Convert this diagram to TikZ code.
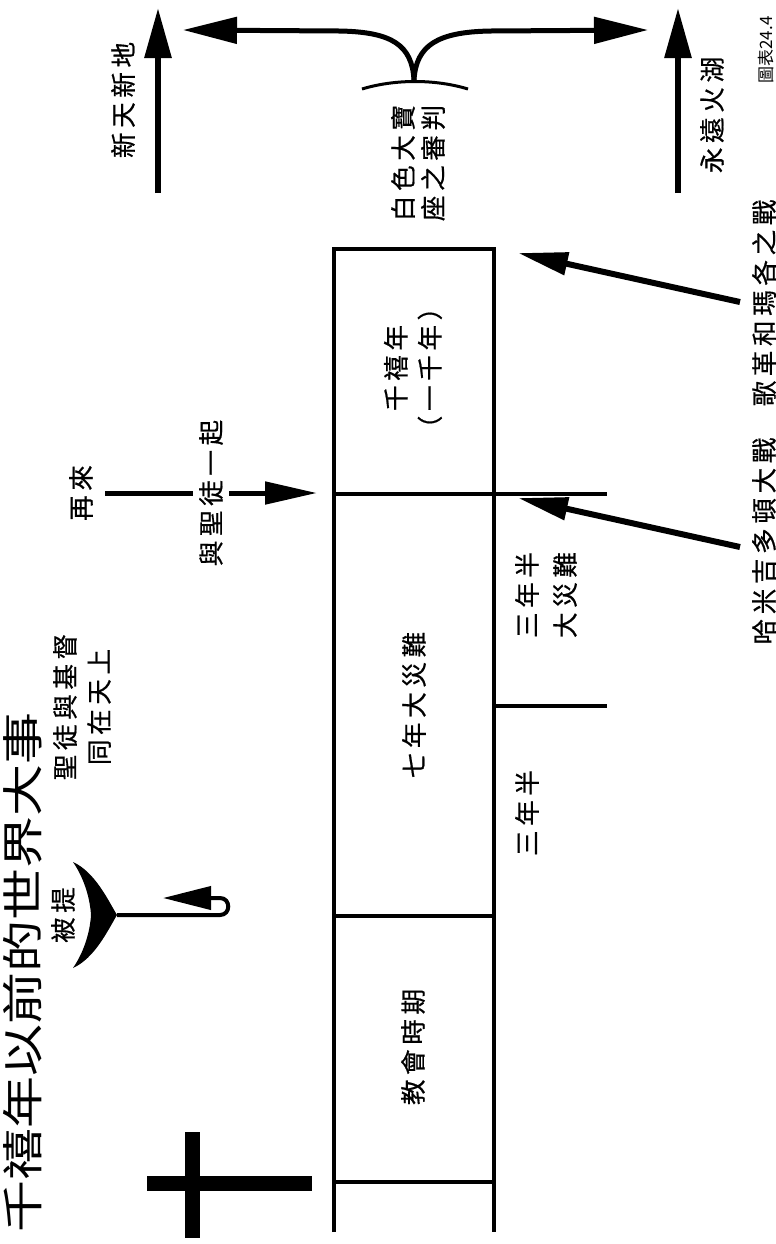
\documentclass[tikz,border=0pt]{standalone}
\usepackage{fontspec}
\setmainfont{Noto Sans CJK TC}
\newfontfamily\spaced[LetterSpace=18,FakeBold=0.6]{Noto Sans CJK TC}
\usetikzlibrary{arrows.meta}

\begin{document}
\begin{tikzpicture}[x=0.5pt, y=-0.5pt,
  tl/.style={line width=2pt},
  lbl/.style={rotate=90, inner sep=0pt, align=center, font=\spaced\fontsize{12.8}{15}\selectfont},
  bigarrow/.style={line width=3pt, -{Triangle[length=25pt,width=13pt]}},
  splitarrow/.style={line width=2.5pt, -{Triangle[length=27pt,width=13pt]}},
  battlearrow/.style={line width=3pt, -{Triangle[length=25pt,width=11pt]}},
  comearrow/.style={line width=2.5pt, -{Triangle[length=26pt,width=11pt]}},
  hookarrow/.style={line width=2pt, -{Triangle[length=24pt,width=11.5pt]}}]
  \useasboundingbox (0,0) rectangle (776,1244);

  % title and figure number
  \node[rotate=90, inner sep=0pt, font=\fontsize{26}{30}\selectfont] (title) at (23,972) {\scalebox{1}[0.8]{千禧年以前的世界大事}};
  \node[rotate=90, inner sep=0pt, font=\fontsize{8.5}{10}\selectfont] (fig) at (766,50) {圖表24.4};

  % timeline
  \coordinate (mill-tl) at (334,249);
  \coordinate (mill-tr) at (494,249);
  \coordinate (trib-tl) at (334,494);
  \coordinate (tick-top) at (607,494);
  \coordinate (mid-r) at (494,706);
  \coordinate (tick-mid) at (607,706);
  \coordinate (church-tl) at (334,916);
  \coordinate (church-tr) at (494,916);
  \coordinate (church-bl) at (334,1182);
  \coordinate (church-br) at (494,1182);
  \coordinate (end-l) at (334,1232);
  \coordinate (end-r) at (494,1232);
  \draw[tl] (end-l) -- (mill-tl) -- (mill-tr) -- (end-r);
  \draw[tl] (trib-tl) -- (tick-top);
  \draw[tl] (mid-r) -- (tick-mid);
  \draw[tl] (church-tl) -- (church-tr);
  \draw[tl] (church-bl) -- (church-br);

  \node[lbl] (mill) at (413,368) {千禧年\\[2pt]（一千年）};
  \node[lbl] (trib) at (414,705) {七年大災難};
  \node[lbl] (church) at (413,1047) {教會時期};
  \node[lbl] (half2) at (546,595) {三年半\\[4pt]大災難};
  \node[lbl] (half1) at (527,813) {三年半};

  % white throne and the two ends
  \node[lbl] (throne) at (418,163) {白色大寶\\座之審判};
  \node[lbl] (newearth) at (123,100) {新天新地};
  \node[lbl] (lake) at (712,115) {永遠火湖};
  \coordinate (ne-foot) at (158,193);
  \coordinate (ne-tip) at (158,8);
  \coordinate (lk-foot) at (678,193);
  \coordinate (lk-tip) at (678,8);
  \draw[bigarrow] (ne-foot) -- (ne-tip);
  \draw[bigarrow] (lk-foot) -- (lk-tip);
  \coordinate (seat) at (414,80);
  \coordinate (seat-l) at (362,89);
  \coordinate (seat-r) at (468,89);
  \coordinate (left-tip) at (183,30);
  \coordinate (right-tip) at (648,30);
  \draw[line width=1.5pt] (seat-l) .. controls (395,79) and (435,79) .. (seat-r);
  \draw[splitarrow] (seat) .. controls (412,45) and (392,32) .. (340,31) -- (left-tip);
  \draw[splitarrow] (seat) .. controls (416,45) and (438,32) .. (490,31) -- (right-tip);

  % battles
  \node[lbl] (gogmagog) at (764,303) {歌革和瑪各之戰};
  \node[lbl] (armageddon) at (764,541) {哈米吉多頓大戰};
  \coordinate (gog-foot) at (740,302);
  \coordinate (gog-tip) at (518,253);
  \coordinate (arm-foot) at (740,547);
  \coordinate (arm-tip) at (518,498);
  \draw[battlearrow] (gog-foot) -- (gog-tip);
  \draw[battlearrow] (arm-foot) -- (arm-tip);

  % second coming
  \node[lbl] (return) at (81,493) {再來};
  \coordinate (come-foot) at (105,493);
  \coordinate (come-tip) at (317,493);
  \draw[comearrow] (come-foot) -- node[lbl, fill=white, inner ysep=3pt] (withsaints) {與聖徒一起} (come-tip);

  % rapture
  \node[lbl] (saints) at (82,707) {聖徒與基督\\[2pt]同在天上};
  \node[lbl] (rapture) at (63,915) {被提};
  \coordinate (cusp) at (117,915);
  \fill (73,862) .. controls (95,872) and (108,900) .. (cusp)
        .. controls (108,930) and (95,958) .. (73,968)
        .. controls (84,952) and (90,932) .. (91,915)
        .. controls (90,898) and (84,878) .. cycle;
  \draw[hookarrow] (cusp) -- (220,915) .. controls (231,915) and (231,898) .. (220,898) -- (163,898);

  % cross
  \draw[line width=7.5pt] (192,1132) -- (192,1238);
  \draw[line width=7.5pt] (147,1183) -- (312,1183);
\end{tikzpicture}
\end{document}
